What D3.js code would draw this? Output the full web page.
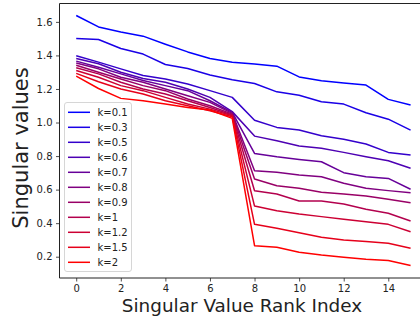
<!DOCTYPE html>
<html>
<head>
<meta charset="utf-8">
<script src="https://cdn.jsdelivr.net/npm/d3@7"></script>
<style>
body { margin: 0; background: #fff; }
text { font-family: 'DejaVu Sans', sans-serif; fill: #222; }
</style>
</head>
<body>
<div class="content"></div>
<script>
const w = 420;
const h = 320;

// chart data
const ranks = d3.range(16);
const kLabels = ['k=0.1', 'k=0.3', 'k=0.5', 'k=0.6', 'k=0.7', 'k=0.8', 'k=0.9', 'k=1', 'k=1.2', 'k=1.5', 'k=2'];
const k01 = [1.638, 1.570, 1.540, 1.515, 1.467, 1.421, 1.382, 1.360, 1.349, 1.336, 1.272, 1.249, 1.236, 1.223, 1.138, 1.104];
const k03 = [1.501, 1.495, 1.441, 1.408, 1.346, 1.322, 1.283, 1.255, 1.233, 1.183, 1.163, 1.124, 1.110, 1.058, 1.020, 0.955];
const k05 = [1.398, 1.360, 1.320, 1.280, 1.260, 1.230, 1.190, 1.150, 1.014, 0.971, 0.955, 0.921, 0.900, 0.872, 0.822, 0.806];
const k06 = [1.382, 1.350, 1.300, 1.262, 1.240, 1.200, 1.150, 1.065, 0.919, 0.891, 0.860, 0.846, 0.822, 0.796, 0.772, 0.727];
const k07 = [1.366, 1.330, 1.290, 1.250, 1.220, 1.190, 1.130, 1.060, 0.816, 0.796, 0.780, 0.766, 0.701, 0.677, 0.667, 0.602];
const k08 = [1.355, 1.320, 1.270, 1.240, 1.200, 1.160, 1.120, 1.055, 0.713, 0.703, 0.687, 0.677, 0.638, 0.608, 0.594, 0.582];
const k09 = [1.342, 1.300, 1.260, 1.220, 1.190, 1.140, 1.100, 1.050, 0.663, 0.623, 0.608, 0.584, 0.574, 0.562, 0.542, 0.522];
const k1 = [1.326, 1.290, 1.240, 1.200, 1.170, 1.130, 1.090, 1.045, 0.593, 0.574, 0.532, 0.532, 0.514, 0.483, 0.459, 0.413];
const k12 = [1.310, 1.270, 1.220, 1.190, 1.150, 1.110, 1.080, 1.040, 0.502, 0.474, 0.455, 0.439, 0.423, 0.409, 0.393, 0.349];
const k15 = [1.293, 1.243, 1.200, 1.170, 1.130, 1.100, 1.070, 1.035, 0.393, 0.370, 0.343, 0.316, 0.300, 0.290, 0.280, 0.250];
const k2 = [1.277, 1.203, 1.144, 1.130, 1.110, 1.090, 1.075, 1.025, 0.266, 0.256, 0.227, 0.210, 0.197, 0.185, 0.177, 0.147];
const xTicks = [0, 2, 4, 6, 8, 10, 12, 14];
const yTicks = [0.2, 0.4, 0.6, 0.8, 1.0, 1.2, 1.4, 1.6];

const series = [k01, k03, k05, k06, k07, k08, k09, k1, k12, k15, k2];

const mLeft = 59.5;
const mRight = 427.3;
const mTop = 3.5;
const mBottom = 278;

const svg = d3.select('.content').append('svg')
	.attr('width', w)
	.attr('height', h);

const xScale = d3.scaleLinear()
	.domain([-0.75, 15.75])
	.range([mLeft, mRight]);

const yScale = d3.scaleLinear()
	.domain([0.0731, 1.7096])
	.range([mBottom, mTop]);

const color = (i) => d3.interpolateRgb('#0000ff', '#ff0000')(i / (series.length - 1));

const line = d3.line()
	.x((d, i) => xScale(ranks[i]))
	.y((d) => yScale(d));

svg.append('g')
	.selectAll('path')
	.data(series)
	.enter()
	.append('path')
	.attr('d', line)
	.attr('fill', 'none')
	.attr('stroke', (d, i) => color(i))
	.attr('stroke-width', 1.5)
	.attr('stroke-linejoin', 'round');

const xAxis = d3.axisBottom(xScale)
	.tickValues(xTicks)
	.tickFormat(d3.format('d'))
	.tickSize(3.5)
	.tickPadding(3.5);

const yAxis = d3.axisLeft(yScale)
	.tickValues(yTicks)
	.tickFormat(d3.format('.1f'))
	.tickSize(3.5)
	.tickPadding(3.5);

const gx = svg.append('g')
	.attr('transform', 'translate(0,' + mBottom + ')')
	.call(xAxis);

const gy = svg.append('g')
	.attr('transform', 'translate(' + mLeft + ',0)')
	.call(yAxis);

[gx, gy].forEach((g) => {
	g.select('.domain').remove();
	g.selectAll('line').attr('stroke', '#222').attr('stroke-width', 0.8);
	g.selectAll('text')
		.attr('font-family', 'DejaVu Sans')
		.attr('font-size', 10)
		.attr('fill', '#222');
});

// spines
svg.append('line')
	.attr('x1', mLeft).attr('x2', mLeft)
	.attr('y1', mTop).attr('y2', mBottom)
	.attr('stroke', '#222').attr('stroke-width', 1);
svg.append('line')
	.attr('x1', mLeft).attr('x2', mRight)
	.attr('y1', mTop).attr('y2', mTop)
	.attr('stroke', '#222').attr('stroke-width', 1);
svg.append('line')
	.attr('x1', mLeft).attr('x2', mRight)
	.attr('y1', mBottom).attr('y2', mBottom)
	.attr('stroke', '#222').attr('stroke-width', 1);

svg.append('text')
	.attr('x', 242)
	.attr('y', 312)
	.attr('text-anchor', 'middle')
	.attr('font-size', 18.4)
	.text('Singular Value Rank Index');

svg.append('text')
	.attr('transform', 'translate(28,148) rotate(-90)')
	.attr('text-anchor', 'middle')
	.attr('font-size', 21)
	.text('Singular values');

// legend
const legend = svg.append('g');

legend.append('rect')
	.attr('x', 64.5)
	.attr('y', 102.5)
	.attr('width', 67)
	.attr('height', 169)
	.attr('rx', 2.5)
	.attr('fill', 'rgba(255,255,255,0.8)')
	.attr('stroke', '#cccccc')
	.attr('stroke-width', 0.8);

const rows = legend.selectAll('.row')
	.data(kLabels)
	.enter()
	.append('g')
	.attr('class', 'row')
	.attr('transform', (d, i) => 'translate(0,' + (112.3 + i * 15) + ')');

rows.append('line')
	.attr('x1', 68)
	.attr('x2', 90)
	.attr('stroke', (d, i) => color(i))
	.attr('stroke-width', 1.5);

rows.append('text')
	.attr('x', 97.5)
	.attr('dy', '0.35em')
	.attr('font-size', 10)
	.text((d) => d);
</script>
</body>
</html>
